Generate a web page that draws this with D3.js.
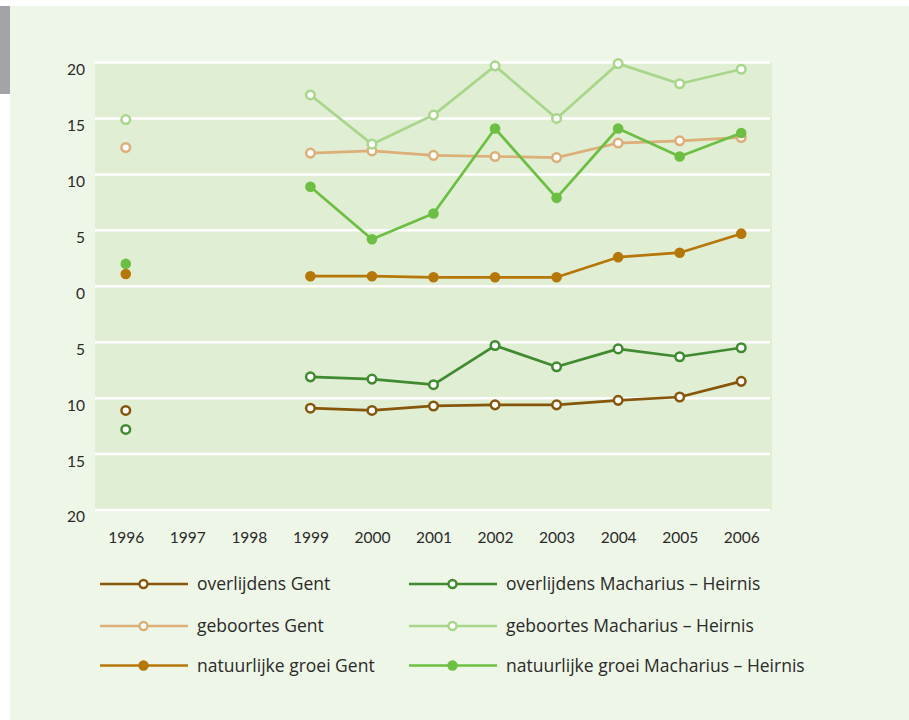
<!DOCTYPE html>
<html>
<head>
<meta charset="utf-8">
<script src="https://d3js.org/d3.v7.min.js"></script>
<style>
	body {
		margin: 0;
		background: #ffffff;
	}
	svg {
		display: block;
	}
	text {
		font-family: Lato, "Open Sans", sans-serif;
		fill: #2a2a2a;
	}
</style>
</head>
<body>
<svg id="chart" width="909" height="720"></svg>
<script>
// years on the x axis
var years = ["1996","1997","1998","1999","2000","2001","2002","2003","2004","2005","2006"];

// per 1000 inhabitants, deaths drawn below zero
var overlijdensGent      = [-11.1, null, null, -10.9, -11.1, -10.7, -10.6, -10.6, -10.2, -9.9, -8.5];
var geboortesGent        = [12.4, null, null, 11.9, 12.1, 11.7, 11.6, 11.5, 12.8, 13.0, 13.3];
var groeiGent            = [1.1, null, null, 0.9, 0.9, 0.8, 0.8, 0.8, 2.6, 3.0, 4.7];
var overlijdensMacharius = [-12.8, null, null, -8.1, -8.3, -8.8, -5.3, -7.2, -5.6, -6.3, -5.5];
var geboortesMacharius   = [14.9, null, null, 17.1, 12.7, 15.3, 19.7, 15.0, 19.9, 18.1, 19.4];
var groeiMacharius       = [2.0, null, null, 8.9, 4.2, 6.5, 14.1, 7.9, 14.1, 11.6, 13.7];

var yTicks = [20, 15, 10, 5, 0, -5, -10, -15, -20];

var series = [
	{name: "overlijdens Gent", values: overlijdensGent, color: "#86560a", filled: false},
	{name: "geboortes Gent", values: geboortesGent, color: "#dcae78", filled: false},
	{name: "natuurlijke groei Gent", values: groeiGent, color: "#b67709", filled: true},
	{name: "overlijdens Macharius \u2013 Heirnis", values: overlijdensMacharius, color: "#408a30", filled: false},
	{name: "geboortes Macharius \u2013 Heirnis", values: geboortesMacharius, color: "#a8d68a", filled: false},
	{name: "natuurlijke groei Macharius \u2013 Heirnis", values: groeiMacharius, color: "#6cbf42", filled: true}
];

var svg = d3.select("#chart");

// page panel + grey tab
svg.append("rect").attr("x", 10).attr("y", 6).attr("width", 899).attr("height", 714).attr("fill", "#eef6e7");
svg.append("rect").attr("x", 0).attr("y", 6).attr("width", 10).attr("height", 88).attr("fill", "#a4a4a8");

var plotL = 95, plotR = 772, plotT = 62.5, plotB = 510;

var x = d3.scalePoint().domain(years).range([plotL, plotR]).padding(0.5);
var y = d3.scaleLinear().domain([-20, 20]).range([plotB, plotT]);

svg.append("rect")
	.attr("x", plotL).attr("y", plotT)
	.attr("width", plotR - plotL).attr("height", plotB - plotT)
	.attr("fill", "#e0eed4");

// gridlines
svg.selectAll(".grid").data(yTicks).enter().append("line")
	.attr("x1", plotL).attr("x2", plotR - 2)
	.attr("y1", function(d) { return y(d); })
	.attr("y2", function(d) { return y(d); })
	.attr("stroke", "#ffffff")
	.attr("stroke-width", 2.5);

// y axis labels (absolute values), sitting just under their gridline
var yAxis = d3.axisLeft(y).tickValues(yTicks).tickSize(0).tickPadding(10)
	.tickFormat(function(d) { return Math.abs(d); });
var gy = svg.append("g").attr("transform", "translate(" + plotL + ",7)").call(yAxis);
gy.select(".domain").remove();
gy.selectAll("text").attr("font-size", 15.5).attr("fill", "#2a2a2a")
	.style("font-family", "Lato, 'Open Sans', sans-serif");

var xAxis = d3.axisBottom(x).tickSize(0).tickPadding(22);
var gx = svg.append("g").attr("transform", "translate(0," + plotB + ")").call(xAxis);
gx.select(".domain").remove();
gx.selectAll("text").attr("font-size", 15.5).attr("fill", "#2a2a2a")
	.style("font-family", "Lato, 'Open Sans', sans-serif");

var line = d3.line()
	.defined(function(d) { return d != null; })
	.x(function(d, i) { return x(years[i]); })
	.y(function(d) { return y(d); });

series.forEach(function(s) {
	svg.append("path")
		.datum(s.values)
		.attr("d", line)
		.attr("fill", "none")
		.attr("stroke", s.color)
		.attr("stroke-width", 2.7)
		.attr("stroke-linejoin", "round");

	var pts = s.values.map(function(v, i) { return {v: v, year: years[i]}; })
		.filter(function(p) { return p.v != null; });
	svg.selectAll(null).data(pts).enter().append("circle")
		.attr("cx", function(p) { return x(p.year); })
		.attr("cy", function(p) { return y(p.v); })
		.attr("r", s.filled ? 5.3 : 4.3)
		.attr("fill", s.filled ? s.color : "#ffffff")
		.attr("stroke", s.color)
		.attr("stroke-width", s.filled ? 0 : 2.5);
});

// legend
var legendCols = [100, 409];
var legendRows = [584, 626, 665.5];
series.forEach(function(s, i) {
	var col = Math.floor(i / 3), row = i % 3;
	var lx = legendCols[col], ly = legendRows[row];
	var g = svg.append("g").attr("transform", "translate(" + lx + "," + ly + ")");
	g.append("line").attr("x1", 0).attr("x2", 88).attr("y1", 0).attr("y2", 0)
		.attr("stroke", s.color).attr("stroke-width", 2.7);
	g.append("circle").attr("cx", 43.5).attr("cy", 0)
		.attr("r", s.filled ? 5.2 : 4)
		.attr("fill", s.filled ? s.color : "#ffffff")
		.attr("stroke", s.color)
		.attr("stroke-width", s.filled ? 0 : 2.4);
	g.append("text").attr("x", 97).attr("y", 6)
		.attr("font-size", 17.5)
		.style("font-family", "'Open Sans', sans-serif")
		.text(s.name);
});
</script>
</body>
</html>
